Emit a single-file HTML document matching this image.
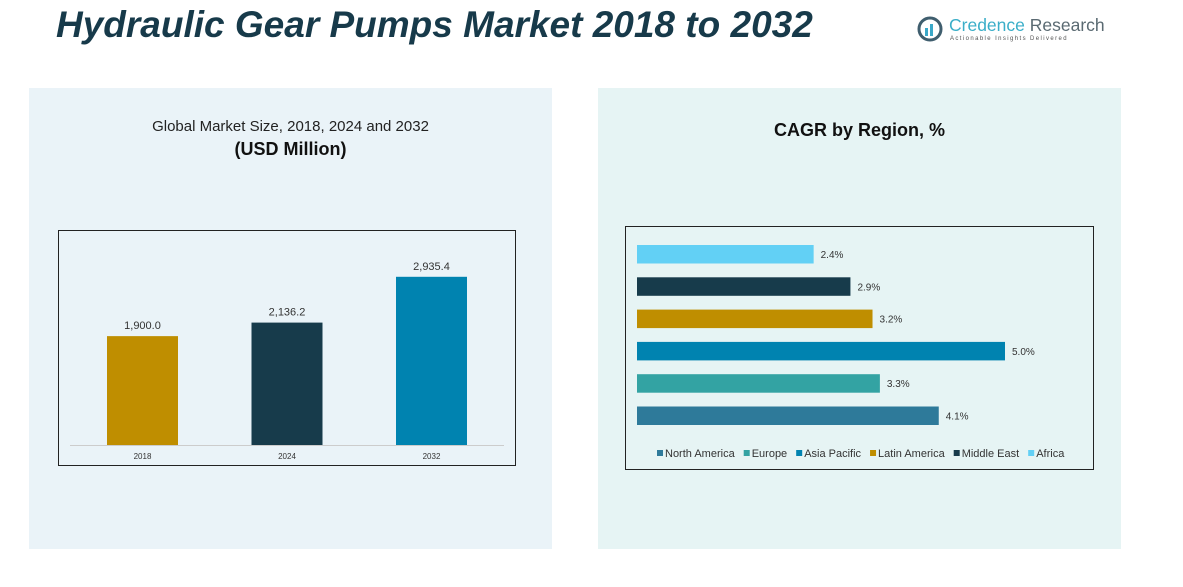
<!DOCTYPE html>
<html><head><meta charset="utf-8"><style>
body{margin:0;width:1183px;height:587px;background:#fff;position:relative;overflow:hidden;font-family:"Liberation Sans",sans-serif}
.abs{position:absolute}
</style></head><body>
<div class="abs" style="left:56px;top:4px;font-size:37px;font-weight:bold;font-style:italic;color:#173a4a;white-space:nowrap">Hydraulic Gear Pumps Market 2018 to 2032</div>
<div class="abs" style="left:917px;top:14px;width:180px;height:32px">
<svg width="28" height="28" style="position:absolute;left:0;top:2px"><circle cx="13" cy="13" r="11" fill="none" stroke="#3f5e6e" stroke-width="3"/><rect x="8" y="12" width="3" height="8" fill="#3aa8c8"/><rect x="13" y="8" width="3" height="12" fill="#3aa8c8"/></svg>
<div class="abs" style="left:32px;top:1px;font-size:17.5px;color:#3aaec8;white-space:nowrap">Credence <span style="color:#5a6a72">Research</span></div>
<div class="abs" style="left:33px;top:22px;font-size:6px;letter-spacing:1.4px;color:#555;white-space:nowrap">Actionable Insights Delivered</div>
</div>
<div class="abs" style="left:29px;top:88px;width:523px;height:461px;background:#eaf3f8"></div>
<div class="abs" style="left:598px;top:88px;width:523px;height:461px;background:#e6f4f4"></div>
<div class="abs" style="left:29px;top:118px;width:523px;text-align:center;font-size:15px;color:#222">Global Market Size, 2018, 2024 and 2032</div>
<div class="abs" style="left:29px;top:139px;width:523px;text-align:center;font-size:18px;font-weight:bold;color:#111">(USD Million)</div>
<div class="abs" style="left:598px;top:120px;width:523px;text-align:center;font-size:18px;font-weight:bold;color:#111">CAGR by Region, %</div>
<svg class="abs" style="left:0;top:0" width="1183" height="587" id="svg">
<rect x="58.5" y="230.5" width="457" height="235" fill="none" stroke="#222"/>
<line x1="70" y1="445.5" x2="504" y2="445.5" stroke="#ccc"/>
<rect x="625.5" y="226.5" width="468" height="243" fill="none" stroke="#222"/>
<g id="left"></g><g id="right"></g><g id="legend"></g>
</svg>
<script>
const years=["2018","2024","2032"];
const sizes=[1900.0,2136.2,2935.4];
const sizeLabels=["1,900.0","2,136.2","2,935.4"];
const yearColors=["#bf8e00","#173b4b","#0083b0"];
const regions=["Africa","Middle East","Latin America","Asia Pacific","Europe","North America"];
const cagr=[2.4,2.9,3.2,5.0,3.3,4.1];
const regionColors=["#62d0f5","#173b4b","#bf8e00","#0083b0","#33a3a3","#2e7a9a"];
const legendOrder=["North America","Europe","Asia Pacific","Latin America","Middle East","Africa"];
const NS="http://www.w3.org/2000/svg";
function mk(t,a,p){const e=document.createElementNS(NS,t);for(const k in a)e.setAttribute(k,a[k]);p.appendChild(e);return e;}
const yS=v=>445-v*0.0573, xB=i=>107+i*144.5;
const L=document.getElementById('left');
years.forEach((y,i)=>{
 const r=mk('rect',{x:xB(i),y:yS(sizes[i]),width:71,height:445-yS(sizes[i]),fill:yearColors[i]},L);
 
 
 const t=mk('text',{x:xB(i)+35.5,y:yS(sizes[i])-7,'text-anchor':'middle','font-size':11,fill:'#333'},L);t.textContent=sizeLabels[i];
 
 
 const x=mk('text',{x:xB(i)+35.5,y:459,'text-anchor':'middle','font-size':8,fill:'#333'},L);x.textContent=y;
 
 
});
const xR=v=>v*73.6, yR=i=>245+i*32.3;
const R=document.getElementById('right');
regions.forEach((n,i)=>{
 const r=mk('rect',{x:637,y:yR(i),width:xR(cagr[i]),height:18.5,fill:regionColors[i]},R);
 
 
 const t=mk('text',{x:637+xR(cagr[i])+7,y:yR(i)+13,'font-size':10,fill:'#333'},R);t.textContent=cagr[i].toFixed(1)+'%';
 
 
});
const G=document.getElementById('legend');let lx=657;
legendOrder.forEach(n=>{
 const c=regionColors[regions.indexOf(n)];
 const g=mk('g',{},G);
 
 
 mk('rect',{x:lx,y:450,width:6,height:6,fill:c},g);
 const t=mk('text',{x:lx+8,y:457,'font-size':11,fill:'#333'},g);t.textContent=n;
 lx+=8+t.getComputedTextLength()+9;
});
</script>
</body></html>
